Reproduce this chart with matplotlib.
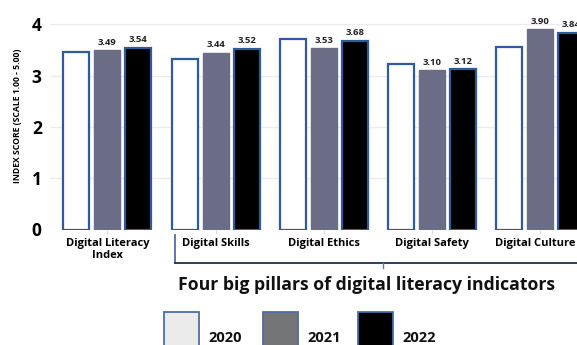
import matplotlib.pyplot as plt
import matplotlib.transforms as mtransforms
import numpy as np
from matplotlib.lines import Line2D
from matplotlib.patches import Rectangle

plt.rcParams['font.family'] = ['Open Sans', 'DejaVu Sans']
plt.rcParams['font.weight'] = 'bold'

categories = ["Digital Literacy\nIndex", "Digital Skills", "Digital Ethics",
              "Digital Safety", "Digital Culture"]
years = ["2020", "2021", "2022"]
v2020 = [3.46, 3.32, 3.72, 3.22, 3.55]
v2021 = [3.49, 3.44, 3.53, 3.10, 3.90]
v2022 = [3.54, 3.52, 3.68, 3.12, 3.84]

W, H = 577, 345
fig = plt.figure(figsize=(W / 100, H / 100), dpi=100)

# axes placed in pixel terms, running off the right edge of the figure
x0_px, zero_px, unit_px = 50, 229.5, 51.3
ymax = 4.45
ax = fig.add_axes([x0_px / W, (H - zero_px) / H,
                   (W - x0_px) / W, ymax * unit_px / H])

x = np.arange(len(categories))
bw = 0.24
off = 0.286
blue = '#2f5a9c'

ax.bar(x - off, v2020, bw, color='white', edgecolor=blue, linewidth=1.6, zorder=3)
b21 = ax.bar(x, v2021, bw, color='#6b6c85', edgecolor='#6b6c85', linewidth=1.0, zorder=3)
b22 = ax.bar(x + off, v2022, bw, color='black', edgecolor=blue, linewidth=1.6, zorder=3)

for bars, vals in ((b21, v2021), (b22, v2022)):
    for b, v in zip(bars, vals):
        ax.text(b.get_x() + b.get_width() / 2, v + 0.07, f"{v:.2f}",
                ha='center', va='bottom', fontsize=6.8, fontweight='bold', color='#222222')

ax.set_xlim(-0.53, (W - 107) / 108.3)
ax.set_ylim(0, ymax)
ax.set_yticks([0, 1, 2, 3, 4])
ax.set_yticklabels(['0', '1', '2', '3', '4'], fontsize=12.5, fontweight='bold')
ax.set_xticks(x)
ax.set_xticklabels(categories, fontsize=8, fontweight='bold', linespacing=1.2)
ax.tick_params(axis='y', length=0, pad=6)
ax.tick_params(axis='x', length=3, color='#d9d9d9', pad=3)
ax.grid(axis='y', color='#ececec', linewidth=1, zorder=0)
for s in ax.spines.values():
    s.set_visible(False)
ax.set_ylabel("INDEX SCORE (SCALE 1.00 - 5.00)", fontsize=6.2, fontweight='bold', labelpad=7)

# nudge the last category name left so it stays inside the figure
last = ax.get_xticklabels()[-1]
last.set_transform(last.get_transform() +
                   mtransforms.ScaledTranslation(-5 / 100, 0, fig.dpi_scale_trans))

# bracket grouping the four pillars
def px(xp, yp):
    return xp / W, 1 - yp / H

bx, by_top, by_bot = 175, 235, 263
lc = '#1f2f4f'
fig.add_artist(Line2D(*zip(px(bx, by_top), px(bx, by_bot)), color='#4a6fa5', lw=1.3))
fig.add_artist(Line2D(*zip(px(bx, by_bot), px(W + 5, by_bot)), color=lc, lw=1.3))
fig.add_artist(Line2D(*zip(px(383, by_bot), px(383, 268)), color='#5a7ab0', lw=1.0))

fig.text(*px(367, 290), "Four big pillars of digital literacy indicators",
         ha='center', va='baseline', fontsize=12.7, fontweight='bold', color='#111111')

# legend boxes
leg_faces = ['#ebebeb', '#737577', '#000000']
leg_x = [164, 263, 358]
for lx, fc, yr in zip(leg_x, leg_faces, years):
    l, b = px(lx, 350)
    fig.add_artist(Rectangle((l, b), 35 / W, 38 / H, transform=fig.transFigure,
                             facecolor=fc, edgecolor='#4a6fa5', linewidth=1.3))
    fig.text(*px(lx + 44, 342), yr, ha='left', va='baseline',
             fontsize=10.5, fontweight='bold', color='#111111')

fig.savefig('out.png', dpi=100)
